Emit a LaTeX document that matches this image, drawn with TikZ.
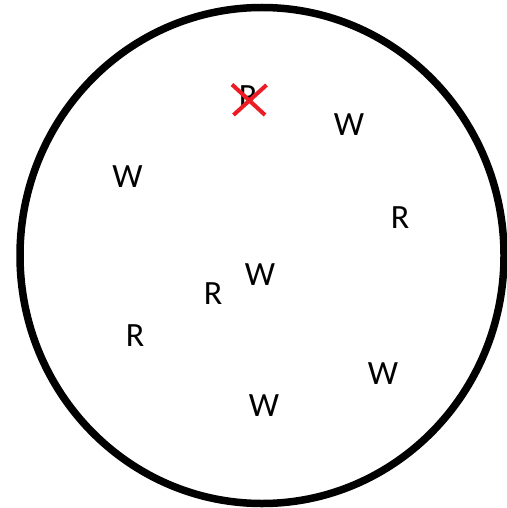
\documentclass[tikz,border=0pt]{standalone}
\usepackage{fontspec}
\setmainfont{Carlito}
\definecolor{xred}{RGB}{237,28,36}
\begin{document}
\begin{tikzpicture}[x=1pt,y=-1pt,
  lab/.style={inner sep=0pt,font=\fontsize{34}{40}\selectfont},
  ring/.style={line width=7.5pt,draw=black},
  cross/.style={line width=4pt,draw=xred}]
\useasboundingbox (0,0) rectangle (506,508);
\draw[ring] (262,255.5) ellipse [x radius=242, y radius=248];
\node[lab] (r0) at (248,97) {R};
\node[lab] (w1) at (349,125) {W};
\node[lab] (w2) at (127.5,177) {W};
\node[lab] (r1) at (400,218) {R};
\node[lab] (w3) at (260,275) {W};
\node[lab] (r2) at (213,294) {R};
\node[lab] (r3) at (135,335.5) {R};
\node[lab] (w4) at (383,374) {W};
\node[lab] (w5) at (264,405.7) {W};
\coordinate (xa) at (232,84.5);
\coordinate (xb) at (265,115);
\coordinate (xc) at (266.5,85);
\coordinate (xd) at (233.5,115);
\draw[cross] (xa) -- (xb);
\draw[cross] (xc) -- (xd);
\end{tikzpicture}
\end{document}
